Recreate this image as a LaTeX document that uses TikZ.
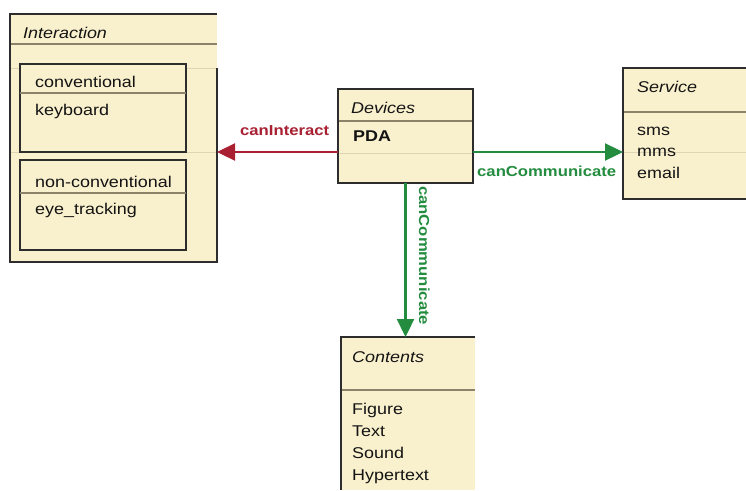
\documentclass[tikz,border=0pt]{standalone}
\usepackage{fontspec}
\setmainfont{Liberation Sans}[FakeStretch=1.15]
\usetikzlibrary{arrows.meta}
\definecolor{boxfill}{RGB}{249,240,205}
\definecolor{edgecol}{RGB}{45,45,45}
\definecolor{hdrcol}{RGB}{140,130,105}
\definecolor{faintcol}{RGB}{222,212,182}
\definecolor{relred}{RGB}{168,32,50}
\definecolor{relgreen}{RGB}{35,140,62}
\definecolor{txtcol}{RGB}{20,20,20}
\begin{document}
\begin{tikzpicture}[x=1pt,y=-1pt,
  panel/.style={fill=boxfill,draw=none,inner sep=0,outer sep=0,anchor=north west},
  subpanel/.style={fill=boxfill,draw=edgecol,line width=1.8pt,inner sep=0,outer sep=0,anchor=north west},
  border/.style={draw=edgecol,line width=1.8pt},
  hdrline/.style={draw=hdrcol,line width=1.4pt},
  faintline/.style={draw=faintcol,line width=1pt},
  txt/.style={anchor=base west,inner sep=0,text=txtcol,font=\fontsize{15.6}{18}\selectfont},
  ttl/.style={txt,font=\fontsize{15.6}{18}\selectfont\itshape},
  rel/.style={line width=2.3pt,-{Triangle[length=18pt,width=17pt]}},
  rellabel/.style={anchor=base west,inner sep=0,font=\fontsize{14.5}{18}\selectfont\bfseries}
]
\useasboundingbox (0,0) rectangle (746,490);
\fill[white] (0,0) rectangle (746,490);

% Interaction
\node[panel,minimum width=207pt,minimum height=248pt] (interaction) at (10,14) {};
\draw[faintline] (interaction.west |- 0,68) -- (interaction.east |- 0,68);
\draw[faintline] (interaction.west |- 0,152) -- (interaction.east |- 0,152);
\draw[hdrline] (interaction.west |- 0,44) -- (interaction.east |- 0,44);
\draw[border] (interaction.north east) -- (interaction.north west) -- (interaction.south west) -- (interaction.south east) -- (interaction.east |- 0,68);
\node[ttl] (tInteraction) at (23,38) {Interaction};

\node[subpanel,minimum width=166pt,minimum height=88pt] (conv) at (20,64) {};
\draw[hdrline] (conv.west |- 0,93) -- (conv.east |- 0,93);
\node[txt] (tConv) at (35,87) {conventional};
\node[txt] (tKeyboard) at (35,115) {keyboard};

\node[subpanel,minimum width=166pt,minimum height=90pt] (nonconv) at (20,160) {};
\draw[hdrline] (nonconv.west |- 0,193) -- (nonconv.east |- 0,193);
\node[txt] (tNonconv) at (35,187) {non-conventional};
\node[txt] (tEye) at (35,214) {eye\_tracking};

% Devices
\node[panel,minimum width=135pt,minimum height=94pt] (devices) at (338,89) {};
\draw[faintline] (devices.west |- 0,153) -- (devices.east |- 0,153);
\draw[hdrline] (devices.west |- 0,121) -- (devices.east |- 0,121);
\draw[border] (devices.north west) rectangle (devices.south east);
\node[ttl] (tDevices) at (351,113) {Devices};
\node[txt,font=\fontsize{15.6}{18}\selectfont\bfseries] (tPDA) at (353,141) {PDA};

% Service
\node[panel,minimum width=123pt,minimum height=131pt] (service) at (623,68) {};
\draw[faintline] (service.west |- 0,152) -- (service.east |- 0,152);
\draw[hdrline] (service.west |- 0,112) -- (service.east |- 0,112);
\draw[border] (service.north east) -- (service.north west) -- (service.south west) -- (service.south east);
\node[ttl] (tService) at (637,92) {Service};
\node[txt] (tSms) at (637,135) {sms};
\node[txt] (tMms) at (637,156.5) {mms};
\node[txt] (tEmail) at (637,178) {email};

% Contents
\node[panel,minimum width=134pt,minimum height=153pt] (contents) at (341,337) {};
\draw[hdrline] (contents.west |- 0,390) -- (contents.east |- 0,390);
\draw[border] (contents.north east) -- (contents.north west) -- (contents.south west);
\node[ttl] (tContents) at (352,362) {Contents};
\node[txt] (tFigure) at (352,414) {Figure};
\node[txt] (tText) at (352,436) {Text};
\node[txt] (tSound) at (352,458) {Sound};
\node[txt] (tHyper) at (352,480) {Hypertext};

% Relations
\coordinate (ciStart) at ([yshift=-16pt]devices.west);
\draw[rel,relred] (ciStart) -- (ciStart -| interaction.east);
\node[rellabel,text=relred] (lInteract) at (240,135) {canInteract};

\coordinate (ccStart) at ([yshift=-16pt]devices.east);
\draw[rel,relgreen] (ccStart) -- (ccStart -| service.west);
\node[rellabel,text=relgreen] (lComm1) at (477,176) {canCommunicate};

\draw[rel,relgreen] (devices.south) -- (devices.south |- contents.north);
\node[rellabel,text=relgreen,rotate=-90] (lComm2) at (419,186) {canCommunicate};
\end{tikzpicture}
\end{document}
